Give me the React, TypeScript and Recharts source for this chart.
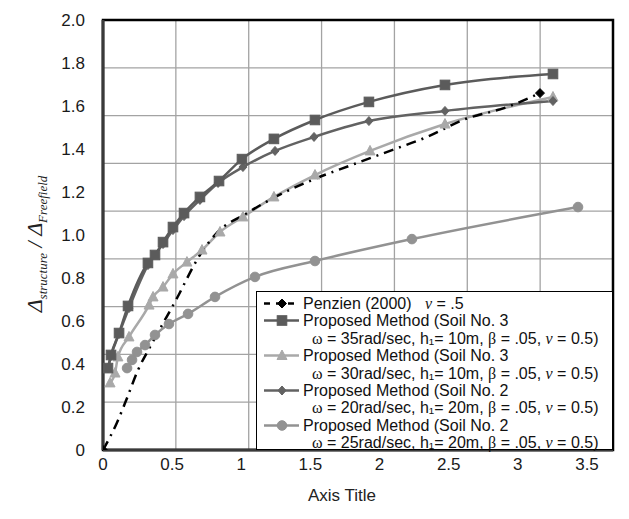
import React from 'react';
import { LineChart, Line, XAxis, YAxis, CartesianGrid, Legend, ReferenceArea } from 'recharts';

// ---- data ----
const penzienX = [0, 0.1, 0.174, 0.253, 0.34, 0.528, 0.701, 0.822, 1.039, 1.302, 1.547, 1.8, 2.09, 2.343, 2.603, 2.921, 3.16];
const penzienY = [0, 0.126, 0.242, 0.372, 0.479, 0.698, 0.907, 1.009, 1.101, 1.195, 1.265, 1.326, 1.395, 1.456, 1.535, 1.595, 1.66];

const soil3w35X = [0.036, 0.058, 0.116, 0.181, 0.325, 0.376, 0.434, 0.506, 0.586, 0.701, 0.839, 1.005, 1.236, 1.533, 1.923, 2.473, 3.254];
const soil3w35Y = [0.381, 0.442, 0.544, 0.67, 0.87, 0.907, 0.967, 1.037, 1.102, 1.177, 1.251, 1.353, 1.447, 1.535, 1.619, 1.698, 1.749];

const soil3w30X = [0.051, 0.087, 0.108, 0.188, 0.333, 0.362, 0.434, 0.506, 0.607, 0.716, 0.846, 1.012, 1.236, 1.533, 1.931, 2.473, 3.254];
const soil3w30Y = [0.312, 0.358, 0.433, 0.526, 0.674, 0.712, 0.758, 0.819, 0.874, 0.93, 1.014, 1.084, 1.177, 1.279, 1.391, 1.516, 1.642];

const soil2w20X = [0.036, 0.058, 0.116, 0.188, 0.325, 0.434, 0.506, 0.586, 0.701, 0.832, 1.012, 1.244, 1.526, 1.923, 2.473, 3.254];
const soil2w20Y = [0.381, 0.437, 0.54, 0.66, 0.86, 0.958, 1.023, 1.088, 1.163, 1.242, 1.316, 1.391, 1.456, 1.53, 1.577, 1.623];

const soil2w25X = [0.174, 0.21, 0.246, 0.304, 0.376, 0.477, 0.615, 0.81, 1.099, 1.533, 2.234, 3.435];
const soil2w25Y = [0.381, 0.419, 0.456, 0.488, 0.535, 0.586, 0.633, 0.712, 0.805, 0.879, 0.981, 1.13];

const xTicks = [0, 0.5, 1, 1.5, 2, 2.5, 3, 3.5];
const yTicks = [0, 0.2, 0.4, 0.6, 0.8, 1.0, 1.2, 1.4, 1.6, 1.8, 2.0];
// the gridlines of the original do not line up with its tick labels:
// it has 7 equal vertical and 9 equal horizontal grid intervals
const gridXDivisions = 7;
const gridYDivisions = 9;

const legendSoil = [3, 3, 2, 2];
const legendOmega = [35, 30, 20, 25];
const legendH = [10, 10, 20, 20];

const toPoints = (xs: number[], ys: number[]) => xs.map((x, i) => ({ x, y: ys[i] }));

const SANS = '"Liberation Sans", Arial, sans-serif';
const SERIF = '"Liberation Serif", "Times New Roman", serif';

const COL_SQ = '#5b5b5b';
const COL_TRI = '#a9a9a9';
const COL_DIA = '#626262';
const COL_CIR = '#929292';

type Shape = 'square' | 'triangle' | 'diamond' | 'circle' | 'bdiamond';

function markerEl(shape: Shape, cx: number, cy: number, color: string, key?: any) {
  if (shape === 'square') {
    return <rect key={key} x={cx - 4.8} y={cy - 4.8} width={9.6} height={9.6} fill={color} stroke={color} />;
  }
  if (shape === 'triangle') {
    return <polygon key={key} points={`${cx},${cy - 5.5} ${cx + 5},${cy + 4} ${cx - 5},${cy + 4}`} fill={color} stroke={color} />;
  }
  if (shape === 'diamond') {
    return <polygon key={key} points={`${cx},${cy - 4.5} ${cx + 4},${cy} ${cx},${cy + 4.5} ${cx - 4},${cy}`} fill={color} stroke={color} />;
  }
  if (shape === 'bdiamond') {
    return <polygon key={key} points={`${cx},${cy - 4.5} ${cx + 4.5},${cy} ${cx},${cy + 4.5} ${cx - 4.5},${cy}`} fill={color} stroke={color} />;
  }
  return <circle key={key} cx={cx} cy={cy} r={4.8} fill={color} stroke={color} />;
}

const makeDot = (shape: Shape, color: string) => (p: any) =>
  p.cx == null ? <g key={p.key ?? p.index} /> : markerEl(shape, p.cx, p.cy, color, p.key ?? p.index);

const penzienDot = (p: any) =>
  p.index === 0 || p.index === penzienX.length - 1
    ? markerEl('bdiamond', p.cx, p.cy, '#000', p.key ?? p.index)
    : <g key={p.key ?? p.index} />;

const LegendIcon = ({ shape, color, dashed }: { shape: Shape; color: string; dashed?: boolean }) => (
  <svg width={40} height={17} style={{ position: 'absolute', left: 6, top: 0 }}>
    <line x1={1} y1={8.5} x2={36} y2={8.5} stroke={color} strokeWidth={2.5} strokeDasharray={dashed ? '6 6' : undefined} />
    {markerEl(shape, 19, 8.5, color)}
  </svg>
);

const Detail = ({ w, h }: { w: number; h: number }) => (
  <span>
    <span style={{ fontFamily: SERIF }}>ω</span> = {w}rad/sec, h₁= {h}m,{' '}
    <span style={{ fontFamily: SERIF }}>β</span> = .05, <i style={{ fontFamily: SERIF }}>ν</i> = 0.5)
  </span>
);

const LegendBox = () => {
  const rowH = 17.4;
  const top0 = 3;
  const rows: React.ReactNode[] = [];
  const rowStyle = (i: number, left: number): React.CSSProperties => ({
    position: 'absolute',
    top: top0 + i * rowH,
    left,
    height: rowH,
    lineHeight: `${rowH}px`,
    whiteSpace: 'nowrap',
  });
  rows.push(
    <div key="p" style={rowStyle(0, 0)}>
      <LegendIcon shape="bdiamond" color="#000" dashed />
      <span style={{ position: 'absolute', left: 46 }}>Penzien (2000)</span>
      <span style={{ position: 'absolute', left: 168 }}>
        <i style={{ fontFamily: SERIF }}>ν</i> = .5
      </span>
    </div>
  );
  const shapes: Shape[] = ['square', 'triangle', 'diamond', 'circle'];
  const cols = [COL_SQ, COL_TRI, COL_DIA, COL_CIR];
  legendSoil.forEach((s, k) => {
    rows.push(
      <div key={`t${k}`} style={rowStyle(1 + k * 2, 0)}>
        <LegendIcon shape={shapes[k]} color={cols[k]} />
        <span style={{ position: 'absolute', left: 46 }}>Proposed Method (Soil No. {s}</span>
      </div>
    );
    rows.push(
      <div key={`d${k}`} style={rowStyle(2 + k * 2, 55)}>
        <Detail w={legendOmega[k]} h={legendH[k]} />
      </div>
    );
  });
  return (
    <div
      style={{
        position: 'relative',
        width: 357,
        height: 159,
        boxSizing: 'border-box',
        border: '1.5px solid #000',
        background: '#fff',
        fontFamily: SANS,
        fontSize: 16,
        color: '#111',
        textAlign: 'left',
      }}
    >
      {rows}
    </div>
  );
};

const YTitle = (props: any) => {
  const vb = props.viewBox || { x: 0, y: 12, width: 95, height: 430 };
  const cx = vb.x + 34;
  const cy = vb.y + vb.height / 2 + 9;
  return (
    <text transform={`translate(${cx},${cy}) rotate(-90)`} textAnchor="middle" fontFamily={SERIF} fontStyle="italic" fill="#222">
      <tspan fontSize={22}>Δ</tspan>
      <tspan fontSize={13} dy={5}>structure</tspan>
      <tspan fontSize={22} dy={-5}> / Δ</tspan>
      <tspan fontSize={13} dy={5}>Freefield</tspan>
    </text>
  );
};

const XTitle = (props: any) => {
  const vb = props.viewBox || { x: 95, y: 442, width: 510, height: 61 };
  return (
    <text x={vb.x + vb.width / 2 - 16} y={vb.y + 45} textAnchor="middle" dominantBaseline="central" fontFamily={SANS} fontSize={17} fill="#222">
      Axis Title
    </text>
  );
};

const divide = (start: number, length: number, n: number) =>
  Array.from({ length: n + 1 }, (_, i) => start + (i * length) / n);

const hGrid = (p: any) => divide(p.offset.top, p.offset.height, gridYDivisions);
const vGrid = (p: any) => divide(p.offset.left, p.offset.width, gridXDivisions);

export default function App() {
  const tickStyle = { fill: '#1a1a1a', fontSize: 17, fontFamily: SANS };
  return (
    <LineChart width={613} height={503} margin={{ top: 12, right: 8, bottom: 0, left: 0 }}>
      <CartesianGrid
        stroke="#a3a3a3"
        strokeWidth={1.3}
        horizontalCoordinatesGenerator={hGrid}
        verticalCoordinatesGenerator={vGrid}
      />
      <XAxis
        dataKey="x"
        type="number"
        domain={[0, 3.688]}
        allowDataOverflow
        ticks={xTicks}
        interval={0}
        height={61}
        tickFormatter={(v: number) => String(v)}
        axisLine={{ stroke: '#3a3a3a', strokeWidth: 3 }}
        tickLine={false}
        tickSize={6}
        tickMargin={2}
        tick={tickStyle}
        label={<XTitle />}
      />
      <YAxis
        type="number"
        domain={[0, 2]}
        allowDataOverflow
        ticks={yTicks}
        interval={0}
        width={95}
        tickFormatter={(v: number) => (v === 0 ? '0' : v.toFixed(1))}
        axisLine={{ stroke: '#3a3a3a', strokeWidth: 3 }}
        tickLine={false}
        tickSize={6}
        tickMargin={12}
        tick={tickStyle}
        label={<YTitle />}
      />
      <ReferenceArea x1={0} x2={3.688} y1={0} y2={2} fill="none" stroke="#000" strokeWidth={2.5} />
      <Line data={toPoints(soil2w25X, soil2w25Y)} dataKey="y" name="Soil 2, ω=25" type="monotone" stroke={COL_CIR} strokeWidth={2.5} dot={makeDot('circle', COL_CIR)} isAnimationActive={false} />
      <Line data={toPoints(soil3w30X, soil3w30Y)} dataKey="y" name="Soil 3, ω=30" type="monotone" stroke={COL_TRI} strokeWidth={2.5} dot={makeDot('triangle', COL_TRI)} isAnimationActive={false} />
      <Line data={toPoints(soil2w20X, soil2w20Y)} dataKey="y" name="Soil 2, ω=20" type="monotone" stroke={COL_DIA} strokeWidth={2.5} dot={makeDot('diamond', COL_DIA)} isAnimationActive={false} />
      <Line data={toPoints(soil3w35X, soil3w35Y)} dataKey="y" name="Soil 3, ω=35" type="monotone" stroke={COL_SQ} strokeWidth={2.5} dot={makeDot('square', COL_SQ)} isAnimationActive={false} />
      <Line data={toPoints(penzienX, penzienY)} dataKey="y" name="Penzien (2000)" type="monotone" stroke="#000" strokeWidth={2.5} strokeDasharray="10 6 2 6" dot={penzienDot} isAnimationActive={false} />
      <Legend
        layout="vertical"
        align="center"
        verticalAlign="middle"
        content={() => <LegendBox />}
        wrapperStyle={{ position: 'absolute', left: 248, top: 283, width: 357, height: 159 }}
      />
    </LineChart>
  );
}
